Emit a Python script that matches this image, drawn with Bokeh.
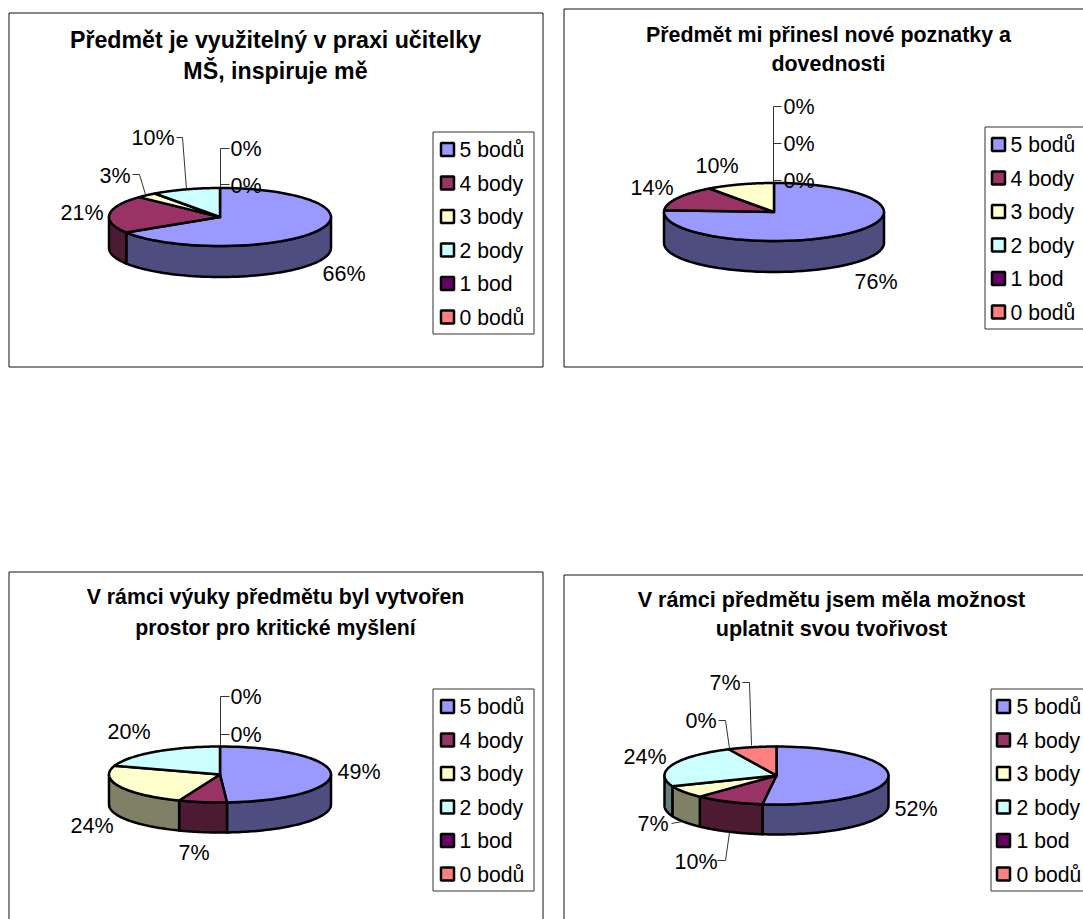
import math
from bokeh.embed import file_html
from bokeh.layouts import column, row
from bokeh.models import Range1d
from bokeh.plotting import figure
from bokeh.resources import INLINE
from bokeh.core.properties import value

# ---- data ----
categories = ["5 bodů", "4 body", "3 body", "2 body", "1 bod", "0 bodů"]
values_a = [66, 21, 3, 10, 0, 0]
values_b = [76, 14, 10, 0, 0, 0]
values_c = [49, 7, 24, 20, 0, 0]
values_d = [52, 10, 7, 24, 0, 7]
titles_a = ["Předmět je využitelný v praxi učitelky", "MŠ, inspiruje mě"]
titles_b = ["Předmět mi přinesl nové poznatky a", "dovednosti"]
titles_c = ["V rámci výuky předmětu byl vytvořen", "prostor pro kritické myšlení"]
titles_d = ["V rámci předmětu jsem měla možnost", "uplatnit svou tvořivost"]
label_text_a = ["66%", "21%", "3%", "10%", "0%", "0%"]
label_text_b = ["76%", "14%", "10%", "0%", "0%", "0%"]
label_text_c = ["49%", "7%", "24%", "20%", "0%", "0%"]
label_text_d = ["52%", "10%", "7%", "24%", "0%", "7%"]

# ---- style ----
top_colors = ["#9999FF", "#993366", "#FFFFCC", "#CCFFFF", "#660066", "#FF8080"]
side_colors = ["#4D4D80", "#4D1A33", "#808066", "#668080", "#330033", "#804040"]
FONT = value("Liberation Sans")

# ---- layout (page pixels) ----
panels = [
    dict(values=values_a, titles=titles_a, labels=label_text_a, title_size=23.2,
         view=(1, 554, 1, 471), box=(9.5, 543.5, 13.5, 367.5),
         title_x=276, title_y=(40, 71), pie=(220.5, 217.5, 111, 29, 31),
         legend=(433.5, 534.5, 132.5, 334.5), swatch_x=441, text_x=460, row_y=150,
         label_xy=[(323, 274), (61, 213), (100, 176), (132, 138), (231, 186), (231, 149)],
         leaders=[[(133, 175), (140, 175), (146, 195)], [(177, 138), (183, 138), (187, 190)],
                  [(230, 149), (221, 149), (221, 189)], [(230, 185), (221, 185)]]),
    dict(values=values_b, titles=titles_b, labels=label_text_b, title_size=21.4,
         view=(554, 1084, 1, 471), box=(564.5, 1100, 9.5, 367.5),
         title_x=829, title_y=(35, 64), pie=(774.5, 212.5, 110, 29, 31),
         legend=(985.5, 1100, 127.5, 329.5), swatch_x=992, text_x=1011, row_y=145,
         label_xy=[(855, 282), (631, 188), (696, 166), (784, 181), (784, 144), (784, 107)],
         leaders=[[(782, 107), (774, 107), (774, 184)], [(782, 144), (774, 144)], [(782, 181), (774, 181)]]),
    dict(values=values_c, titles=titles_c, labels=label_text_c, title_size=21.3,
         view=(1, 554, 471, 920), box=(9.5, 543.5, 572.5, 960),
         title_x=276, title_y=(597, 628), pie=(220.5, 775, 111, 28, 30),
         legend=(433.5, 534.5, 689.5, 891.5), swatch_x=441, text_x=460, row_y=707,
         label_xy=[(338, 772), (179, 853), (71, 826), (108, 732), (231, 735), (231, 697)],
         leaders=[[(230, 697), (221, 697), (221, 747)], [(230, 735), (221, 735)]]),
    dict(values=values_d, titles=titles_d, labels=label_text_d, title_size=21.6,
         view=(554, 1084, 471, 920), box=(564.5, 1100, 575.5, 960),
         title_x=832, title_y=(600, 629), pie=(777, 776, 112, 29, 30),
         legend=(991.5, 1100, 689.5, 891.5), swatch_x=997, text_x=1017, row_y=707,
         label_xy=[(895, 809), (675, 862), (638, 824), (624, 757), (686, 721), (710, 683)],
         leaders=[[(672, 824), (683, 822)], [(718, 861), (726, 861), (730, 833)],
                  [(719, 721), (726, 721), (730, 749)], [(743, 683), (750, 683), (752, 746)]]),
]


def arc(cx, cy, rx, ry, a0, a1, n=60):
    """Clockwise from 12 o'clock, angles in degrees."""
    pts = []
    for i in range(n + 1):
        t = math.radians(a0 + (a1 - a0) * i / n)
        pts.append((cx + rx * math.sin(t), cy - ry * math.cos(t)))
    return pts


def draw_panel(cfg):
    x0, x1, y0, y1 = cfg["view"]
    p = figure(width=x1 - x0, height=y1 - y0, output_backend="svg", toolbar_location=None,
               x_range=Range1d(x0, x1), y_range=Range1d(y1, y0), min_border=0,
               outline_line_color=None, x_axis_location=None, y_axis_location=None)
    p.grid.visible = False
    b = cfg["box"]
    p.quad(left=[b[0]], right=[b[1]], top=[b[2]], bottom=[b[3]], fill_color="white",
           line_color="#111111", line_width=1)

    text_opts = dict(text_font=FONT, text_color="black", text_baseline="middle")
    # title
    for line, ty in zip(cfg["titles"], cfg["title_y"]):
        p.text(x=[cfg["title_x"]], y=[ty], text=[line], text_align="center", text_font_style="bold",
               text_font_size=f"{cfg['title_size']}px", **text_opts)

    # leader lines
    for pts in cfg["leaders"]:
        p.line([q[0] for q in pts], [q[1] for q in pts], line_color="#333333", line_width=1)

    # 3D pie from the values
    cx, cy, rx, ry, depth = cfg["pie"]
    total = sum(cfg["values"])
    start = 0.0
    spans = []
    for v in cfg["values"]:
        end = start + 360.0 * v / total
        spans.append((start, end))
        start = end
    for (a0, a1), side in zip(spans, side_colors):
        lo, hi = max(a0, 90), min(a1, 270)
        if hi <= lo:
            continue
        outer = arc(cx, cy, rx, ry, lo, hi)
        lower = [(q[0], q[1] + depth) for q in reversed(outer)]
        poly = outer + lower
        p.patch([q[0] for q in poly], [q[1] for q in poly], fill_color=side,
                line_color="black", line_width=2.5, line_join="round")
    for (a0, a1), col in zip(spans, top_colors):
        if a1 <= a0:
            continue
        poly = [(cx, cy)] + arc(cx, cy, rx, ry, a0, a1)
        p.patch([q[0] for q in poly], [q[1] for q in poly], fill_color=col,
                line_color="black", line_width=2.5, line_join="round")

    # data labels
    for txt, (lx, ly) in zip(cfg["labels"], cfg["label_xy"]):
        p.text(x=[lx], y=[ly], text=[txt], text_align="left", text_font_size="21.5px", **text_opts)

    # legend
    l = cfg["legend"]
    p.quad(left=[l[0]], right=[l[1]], top=[l[2]], bottom=[l[3]], fill_color="white",
           line_color="#333333", line_width=1)
    for i, (cat, col) in enumerate(zip(categories, top_colors)):
        yy = cfg["row_y"] + i * 33.5
        p.rect(x=[cfg["swatch_x"] + 7], y=[yy], width=[13], height=[13], fill_color=col,
               line_color="black", line_width=2.5)
        p.text(x=[cfg["text_x"]], y=[yy], text=[cat], text_align="left", text_font_size="21.2px", **text_opts)
    return p


figs = [draw_panel(c) for c in panels]
layout = column(row(figs[0], figs[1]), row(figs[2], figs[3]))
open("out.html", "w").write(file_html(layout, INLINE))
